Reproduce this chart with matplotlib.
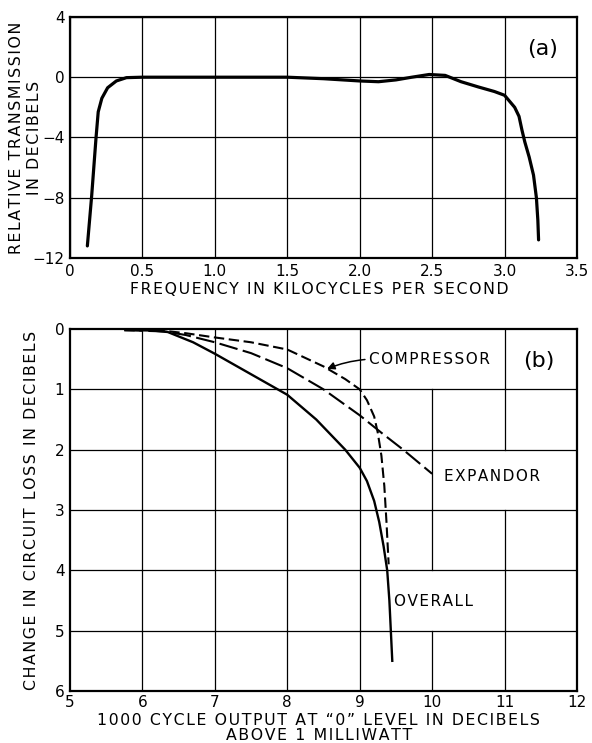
import matplotlib.pyplot as plt

# Datos de la curva (a): transmision relativa frente a frecuencia
freq_khz = [0.12, 0.15, 0.18, 0.195, 0.22, 0.26, 0.32, 0.39, 0.5, 1.0, 1.5, 1.75, 2.0, 2.13,
            2.25, 2.36, 2.48, 2.59, 2.7, 2.82, 2.93, 3.0, 3.07, 3.1, 3.12, 3.14, 3.17, 3.2,
            3.22, 3.23, 3.235]
rel_db = [-11.2, -7.85, -4.0, -2.3, -1.4, -0.7, -0.25, -0.03, 0.0, 0.0, 0.0, -0.1, -0.25, -0.3,
          -0.18, 0.0, 0.18, 0.12, -0.3, -0.65, -0.95, -1.2, -2.0, -2.6, -3.5, -4.3, -5.3, -6.5,
          -8.0, -9.5, -10.8]
freq_ticks = [0, 0.5, 1.0, 1.5, 2.0, 2.5, 3.0, 3.5]
freq_labels = ['0', '0.5', '1.0', '1.5', '2.0', '2.5', '3.0', '3.5']
db_ticks = [4, 0, -4, -8, -12]
db_labels = ['4', '0', '\u22124', '\u22128', '\u221212']

# Datos de las curvas (b): cambio de perdida frente a nivel de salida
overall_x = [6.1, 6.35, 6.7, 7.0, 7.5, 8.0, 8.4, 8.8, 9.0, 9.1, 9.2, 9.27, 9.33, 9.38, 9.41, 9.43, 9.45]
overall_y = [0.02, 0.05, 0.22, 0.41, 0.75, 1.09, 1.5, 2.0, 2.3, 2.52, 2.85, 3.2, 3.6, 4.0, 4.5, 5.0, 5.5]
expandor_x = [5.75, 6.3, 6.6, 7.0, 7.5, 8.0, 8.5, 9.0, 9.3, 9.6, 10.0]
expandor_y = [0.02, 0.04, 0.1, 0.22, 0.4, 0.65, 1.0, 1.43, 1.72, 2.0, 2.4]
compresor_x = [5.75, 6.3, 6.6, 7.0, 7.5, 8.0, 8.5, 8.8, 9.0, 9.1, 9.2, 9.25, 9.3, 9.34, 9.37, 9.4]
compresor_y = [0.02, 0.03, 0.07, 0.14, 0.22, 0.34, 0.62, 0.83, 1.0, 1.18, 1.45, 1.72, 2.1, 2.6, 3.2, 3.9]
nivel_ticks = [5, 6, 7, 8, 9, 10, 11, 12]
perdida_ticks = [0, 1, 2, 3, 4, 5, 6]


def espaciado(texto):
    # separa las letras con un espacio fino, como la rotulacion original
    return '\n'.join('\u200a'.join(linea) for linea in texto.split('\n'))


plt.rcParams['font.family'] = ['DejaVu Sans']
fig = plt.figure(figsize=(5.92, 7.43), dpi=100)
ax_a = fig.add_axes([0.1182, 0.6528, 0.8564, 0.3244])
ax_b = fig.add_axes([0.1182, 0.0700, 0.8564, 0.4872])

for ax in (ax_a, ax_b):
    for spine in ax.spines.values():
        spine.set_linewidth(1.6)
    ax.tick_params(length=0, pad=4, labelsize=11)
ax_b.tick_params(axis='x', pad=3)

# Panel (a)
ax_a.plot(freq_khz, rel_db, color='black', lw=2.3, solid_capstyle='round',
          solid_joinstyle='round', zorder=3)
ax_a.set_xlim(0, 3.5)
ax_a.set_ylim(-12, 4)
ax_a.set_xticks(freq_ticks)
ax_a.set_xticklabels(freq_labels)
ax_a.set_yticks(db_ticks)
ax_a.set_yticklabels(db_labels)
ax_a.grid(True, color='black', lw=0.9)
ax_a.set_axisbelow(True)
ax_a.text(3.26, 1.9, '(a)', fontsize=16, ha='center', va='center')
fig.text(0.5385, 1 - 290 / 743, espaciado('FREQUENCY IN KILOCYCLES PER SECOND'),
         fontsize=11.3, ha='center', va='center')
ax_a.text(-0.087, 0.5, espaciado('RELATIVE TRANSMISSION\nIN DECIBELS'), transform=ax_a.transAxes,
          fontsize=11.3, ha='center', va='center', rotation=90, multialignment='center', linespacing=1.25)

# Panel (b)
ax_b.plot(overall_x, overall_y, color='black', lw=1.7, solid_joinstyle='round', zorder=3)
ax_b.plot(expandor_x, expandor_y, color='black', lw=1.5, linestyle=(0, (9, 2.6)), zorder=3)
ax_b.plot(compresor_x, compresor_y, color='black', lw=1.5, linestyle=(0, (5, 2.2)), zorder=3)
ax_b.set_xlim(5, 12)
ax_b.set_ylim(6, 0)
ax_b.set_xticks(nivel_ticks)
ax_b.set_yticks(perdida_ticks)

# rejilla con huecos detras de los rotulos
huecos = {10: [0, 4], 11: [2]}
for xv in nivel_ticks[1:-1]:
    for y0 in perdida_ticks[:-1]:
        if y0 in huecos.get(xv, []):
            continue
        ax_b.plot([xv, xv], [y0, y0 + 1], color='black', lw=0.9, zorder=1)
ax_b.hlines(perdida_ticks[1:-1], 5, 12, color='black', lw=0.9, zorder=1)

ax_b.annotate(espaciado('COMPRESSOR'), xy=(8.55, 0.66), xytext=(9.13, 0.5), fontsize=11,
              ha='left', va='center',
              arrowprops=dict(arrowstyle='-|>', color='black', lw=1.1, mutation_scale=11,
                              shrinkA=1, shrinkB=0, relpos=(0, 0.5),
                              connectionstyle='arc3,rad=0.08'))
ax_b.text(10.16, 2.44, espaciado('EXPANDOR'), fontsize=11, ha='left', va='center')
ax_b.text(9.48, 4.52, espaciado('OVERALL'), fontsize=11, ha='left', va='center')
ax_b.text(11.48, 0.53, '(b)', fontsize=16, ha='center', va='center')
fig.text(0.5385, 1 - 728 / 743, espaciado('1000 CYCLE OUTPUT AT \u201c0\u201d LEVEL IN DECIBELS\nABOVE 1 MILLIWATT'),
         fontsize=11.3, ha='center', va='center', multialignment='center', linespacing=1.05)
ax_b.text(-0.075, 0.5, espaciado('CHANGE IN CIRCUIT LOSS IN DECIBELS'), transform=ax_b.transAxes,
          fontsize=11.3, ha='center', va='center', rotation=90)

fig.savefig('out.png', dpi=100)
